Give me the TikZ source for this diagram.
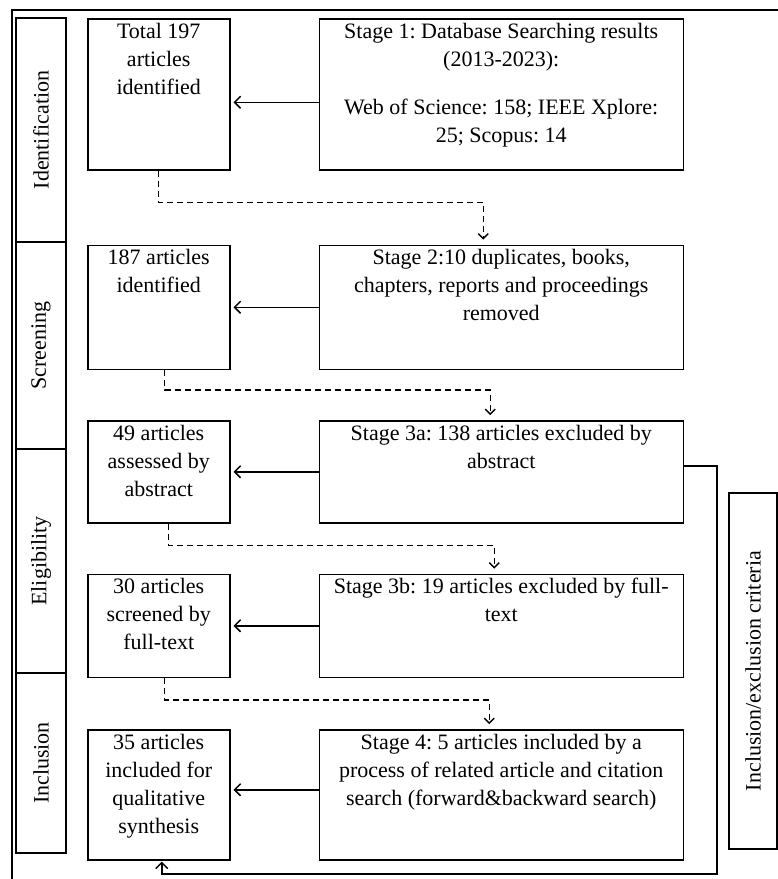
\documentclass[tikz,border=0pt]{standalone}
\usepackage{fontspec}
\setmainfont{Liberation Serif}
\usetikzlibrary{arrows.meta,positioning,calc}
\newcommand{\cellbox}[3]{\parbox[c][#2][t]{#1}{\centering\strut #3}}
\frenchspacing

\begin{document}
\begin{tikzpicture}[x=1pt,y=-1pt, font=\fontsize{22}{28}\selectfont,
   cell/.style={draw,line width=1.5pt,inner sep=0pt,anchor=north west},
   side/.style={draw,line width=1.5pt,inner sep=0pt,rotate=90,minimum height=50pt},
   arr/.style={-{Straight Barb[length=6pt,width=12pt]},line width=1.5pt,shorten >=3pt},
   darr/.style={-{Straight Barb[length=5pt,width=10pt]},line width=1.4pt,dash pattern=on 6pt off 4pt,shorten >=5pt}]
  \useasboundingbox (0,0) rectangle (778,879);
  \draw[line width=1.5pt] (12,879) -- (12,10) -- (778,10);

  % phase labels
  \node[side,minimum width=224pt] (lid) at (41,130) {Identification};
  \node[side,minimum width=207pt] (lsc) at (41,345.5) {Screening};
  \node[side,minimum width=224pt] (lel) at (41,561) {Eligibility};
  \node[side,minimum width=180pt] (lin) at (41,763) {Inclusion};

  % left column
  \node[cell] (tot) at (87,18) {\cellbox{142pt}{151pt}{Total 197\\articles\\identified}};
  \node[cell,below=74pt of tot.south west,anchor=north west] (scr) {\cellbox{142pt}{124pt}{187 articles\\identified}};
  \node[cell,below=50pt of scr.south west,anchor=north west] (abs) {\cellbox{142pt}{102pt}{49 articles\\assessed by\\abstract}};
  \node[cell,below=50pt of abs.south west,anchor=north west] (ful) {\cellbox{142pt}{103pt}{30 articles\\screened by\\full-text}};
  \node[cell,below=51pt of ful.south west,anchor=north west] (inc) {\cellbox{142pt}{130pt}{35 articles\\included for\\qualitative\\synthesis}};

  % stages
  \node[cell,right=88pt of tot.north east,anchor=north west] (s1) {\cellbox{364pt}{151pt}{Stage 1: Database Searching results\\(2013-2023):\\[20pt]Web of Science: 158; IEEE Xplore:\\25; Scopus: 14}};
  \node[cell,right=88pt of scr.north east,anchor=north west] (s2) {\cellbox{364pt}{124pt}{Stage 2:10 duplicates, books,\\chapters, reports and proceedings\\removed}};
  \node[cell,right=88pt of abs.north east,anchor=north west] (s3a) {\cellbox{364pt}{102pt}{Stage 3a: 138 articles excluded by\\abstract}};
  \node[cell,right=88pt of ful.north east,anchor=north west] (s3b) {\cellbox{364pt}{103pt}{Stage 3b: 19 articles excluded by full-\\text}};
  \node[cell,right=88pt of inc.north east,anchor=north west] (s4) {\cellbox{364pt}{130pt}{Stage 4: 5 articles included by a\\process of related article and citation\\search (forward\&backward search)}};

  \node[side,minimum width=356pt,minimum height=48pt] (crit) at (753,671) {Inclusion/exclusion criteria};

  \draw[arr] ([yshift=-8pt]s1.west) -- ([yshift=-8pt]s1.west -| tot.east);
  \draw[arr] (s2.west) -- (scr.east);
  \draw[arr] (s3a.west) -- (abs.east);
  \draw[arr] (s3b.west) -- (ful.east);
  \draw[arr] ([yshift=5pt]s4.west) -- ([yshift=5pt]inc.east);

  \draw[darr] (tot.south) -- ++(0,32) -| ([xshift=-18pt]s2.north);
  \draw[darr] ([xshift=6pt]scr.south) -- ++(0,20) -| ([xshift=-11pt]s3a.north);
  \draw[darr] ([xshift=10pt]abs.south) -- ++(0,22) -| ([xshift=-7pt]s3b.north);
  \draw[darr] ([xshift=6pt]ful.south) -- ++(0,22) -| ([xshift=-12pt]s4.north);

  % criteria loop back
  \coordinate (loop) at (717,874);
  \draw[arr,shorten >=1pt] ([yshift=6pt]s3a.east) -| (loop) -| ([xshift=3pt]inc.south);
\end{tikzpicture}
\end{document}
